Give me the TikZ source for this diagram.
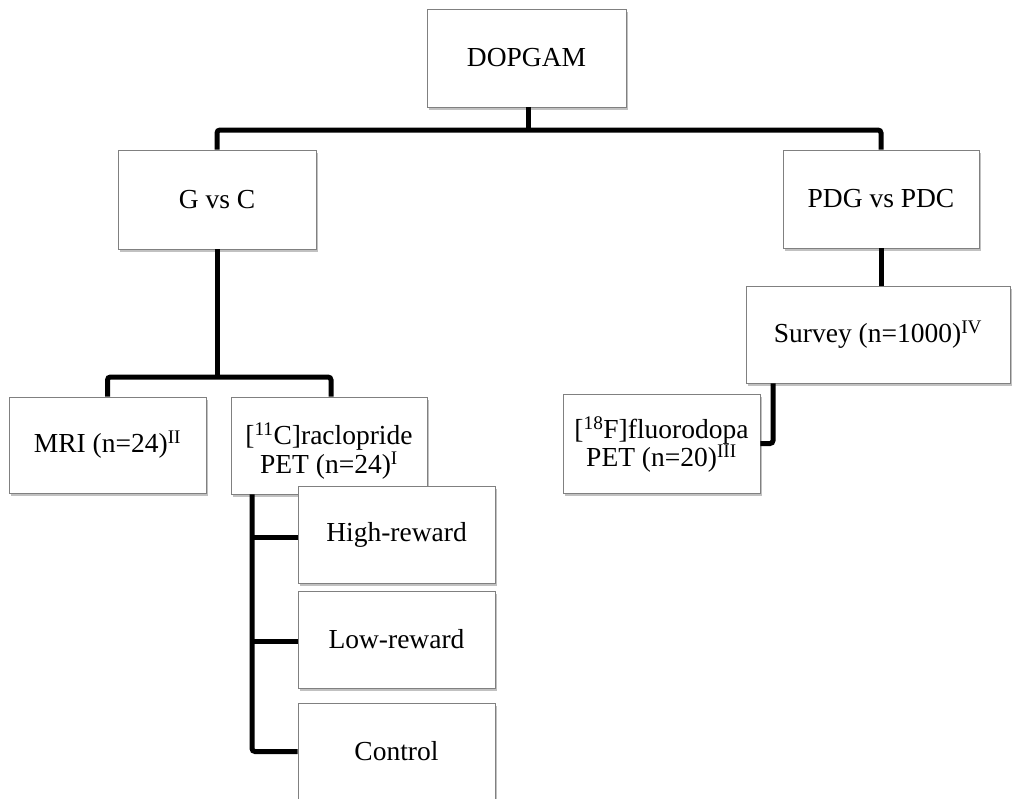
\documentclass[tikz,border=0pt]{standalone}
\usepackage{fontspec}
\setmainfont{Liberation Serif}
\usetikzlibrary{shadows}
\begin{document}
\begin{tikzpicture}[x=1pt,y=-1pt,
  box/.style={draw=black!50, line width=0.8pt, fill=white, minimum width=197pt, minimum height=97pt,
    inner sep=2pt, align=center, font=\fontsize{27.5}{28.5}\selectfont,
    drop shadow={shadow xshift=1.5pt, shadow yshift=-2.5pt, opacity=0.35, fill=black!70}},
  conn/.style={line width=5pt, rounded corners=3pt, line cap=butt}]
\useasboundingbox (0,0) rectangle (1012,798);
\begin{scope}
\clip (0,0) rectangle (1012,798);
\node[box, minimum width=199pt, minimum height=98pt] (dop) at (526.5,58) {DOPGAM};
\node[box, minimum width=198pt, minimum height=99pt] (gc) at (217,199.5) {G vs C};
\node[box, minimum width=196pt, minimum height=98pt] (pdg) at (881,199) {PDG vs PDC};
\node[box, minimum width=264pt, minimum height=97pt] (sur) at (878,334.5) {Survey (n=1000)\textsuperscript{IV}};
\node[box, minimum height=96pt] (mri) at (107.5,445) {MRI (n=24)\textsuperscript{II}};
\node[box, minimum width=196pt] (rac) at (329,445.5) {\rule{0pt}{33pt}[\textsuperscript{11}C]raclopride\\PET (n=24)\textsuperscript{I}};
\node[box, minimum height=99pt] (flu) at (661.5,443.5) {\rule{0pt}{24pt}[\textsuperscript{18}F]fluorodopa\\PET (n=20)\textsuperscript{III}};
\node[box] (hr) at (396.5,534.5) {High-reward};
\node[box] (lr) at (396.5,639.5) {Low-reward};
\node[box] (ctl) at (396.5,751.5) {Control};

% connectors
\coordinate (bar) at (528,130);
\draw[conn] ([xshift=1.5pt]dop.south) -- ([xshift=1.5pt]dop.south |- bar);
\draw[conn] (gc.north) -- (gc.north |- bar) -- (pdg.north |- bar) -- (pdg.north);
\coordinate (bar2) at (217,377);
\draw[conn] (gc.south) -- (bar2);
\draw[conn] (mri.north) -- (mri.north |- bar2) -- ([xshift=2pt]rac.north |- bar2) -- ([xshift=2pt]rac.north);
\draw[conn] (pdg.south) -- (sur.north -| pdg.south);
\coordinate (rs) at (252,0);
\coordinate (hra) at ([yshift=-2.5pt]hr.west);
\coordinate (lra) at ([yshift=-1.5pt]lr.west);
\draw[conn] (rac.south -| rs) -- (ctl.west -| rs) -- (ctl.west);
\draw[conn] (hra -| rs) -- (hra);
\draw[conn] (lra -| rs) -- (lra);
\coordinate (ss) at (773,0);
\draw[conn] (sur.south -| ss) -- (ss |- flu.east) -- (flu.east);
\end{scope}
\end{tikzpicture}
\end{document}
